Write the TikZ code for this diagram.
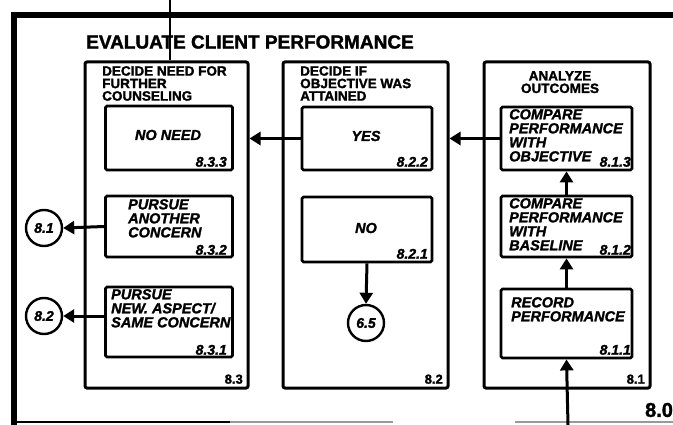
\documentclass[tikz,border=0pt]{standalone}
\usepackage{fontspec}
\setmainfont{Liberation Sans}[
  BoldFeatures={FakeBold=1.6},
  BoldItalicFeatures={FakeBold=1.6}]
\usetikzlibrary{arrows.meta}

\tikzset{
  frame/.style={line width=6pt, line cap=butt},
  panel/.style={draw, line width=3pt, rounded corners=2pt, inner sep=0pt},
  task/.style={draw, line width=2.8pt, rounded corners=1.5pt, inner sep=0pt},
  link/.style={line width=3pt, -{Triangle[length=11pt,width=13pt]}},
  wire/.style={line width=2.6pt},
  ref/.style={draw, circle, line width=2.4pt, minimum size=36pt, inner sep=0pt,
    font=\bfseries\itshape\fontsize{14}{14}\selectfont},
  heading/.style={align=left, inner sep=0pt,
    font=\bfseries\fontsize{13.5}{12.5}\selectfont},
  tasktext/.style={align=left, inner sep=0pt,
    font=\bfseries\itshape\fontsize{14.5}{14}\selectfont},
  tasknum/.style={inner sep=0pt, anchor=south east,
    font=\bfseries\itshape\fontsize{14}{14}\selectfont},
  panelnum/.style={inner sep=0pt, anchor=south east,
    font=\bfseries\fontsize{13}{13}\selectfont},
}

\begin{document}
\begin{tikzpicture}[x=1pt, y=-1pt]
\useasboundingbox (0,0) rectangle (673,425);

% outer frame of activity 8.0
\draw[frame] (673,15) -- (14,15) -- (14,425);
\draw[line width=2pt] (11,422) -- (230,422);
\draw[line width=2pt, black!40] (230,422) -- (393,422);
\draw[line width=2pt, black!40] (515,422) -- (673,422);

\node[font=\bfseries\fontsize{19}{19}\selectfont, inner sep=0pt] (title) at (250,42)
  {EVALUATE CLIENT PERFORMANCE};
\node[font=\bfseries\fontsize{20}{20}\selectfont, inner sep=0pt] (n80) at (659,410) {8.0};

% the three panels
\node[panel, minimum width=163pt, minimum height=326pt] (p83) at (166.5,225) {};
\node[panel, minimum width=165pt, minimum height=326pt] (p82) at (365.5,225) {};
\node[panel, minimum width=166pt, minimum height=326pt] (p81) at (567,225) {};

\node[heading, anchor=north west] (h83) at (102,66) {DECIDE NEED FOR\\FURTHER\\COUNSELING};
\node[heading, anchor=north west] (h82) at (300,66) {DECIDE IF\\OBJECTIVE WAS\\ATTAINED};
\node[heading, anchor=north, align=center] (h81) at (560,71) {ANALYZE\\OUTCOMES};

\node[panelnum] (l83) at (243,384) {8.3};
\node[panelnum] (l82) at (443,384) {8.2};
\node[panelnum] (l81) at (645,384) {8.1};

% panel 8.3
\node[task, minimum width=127pt, minimum height=64pt] (t833) at (169,138) {};
\node[tasktext] (x833) at (168,135) {NO NEED};
\node[tasknum] (k833) at (227,167) {8.3.3};

\node[task, minimum width=127pt, minimum height=61pt] (t832) at (169,226.5) {};
\node[tasktext, anchor=north west] (x832) at (128,199) {PURSUE\\ANOTHER\\CONCERN};
\node[tasknum] (k832) at (227,255) {8.3.2};

\node[task, minimum width=127pt, minimum height=70pt] (t831) at (169,322) {};
\node[tasktext, anchor=north west] (x831) at (111,289) {PURSUE\\NEW. ASPECT/\\SAME CONCERN};
\node[tasknum] (k831) at (227,355) {8.3.1};

\node[ref] (c81) at (44,228) {8.1};
\node[ref] (c82) at (44,316) {8.2};

% panel 8.2
\node[task, minimum width=130pt, minimum height=63pt] (t822) at (367,138.5) {};
\node[tasktext] (x822) at (366,136) {YES};
\node[tasknum] (k822) at (428,167) {8.2.2};

\node[task, minimum width=130pt, minimum height=65pt] (t821) at (367,229.5) {};
\node[tasktext] (x821) at (366,228) {NO};
\node[tasknum] (k821) at (428,259) {8.2.1};

\node[ref] (c65) at (366,323) {6.5};

% panel 8.1
\node[task, minimum width=131pt, minimum height=63pt] (t813) at (566.5,138.5) {};
\node[tasktext, anchor=north west] (x813) at (509,109) {COMPARE\\PERFORMANCE\\WITH\\OBJECTIVE};
\node[tasknum] (k813) at (631,167) {8.1.3};

\node[task, minimum width=131pt, minimum height=61pt] (t812) at (566.5,226.5) {};
\node[tasktext, anchor=north west] (x812) at (509,198) {COMPARE\\PERFORMANCE\\WITH\\BASELINE};
\node[tasknum] (k812) at (631,255) {8.1.2};

\node[task, minimum width=131pt, minimum height=69pt] (t811) at (566.5,323.5) {};
\node[tasktext, anchor=north west] (x811) at (511,297) {RECORD\\PERFORMANCE};
\node[tasknum] (k811) at (631,355) {8.1.1};

% connectors
\coordinate (topin) at (170,0);
\coordinate (botin) at (568,425);
\draw[wire] (topin) -- (topin |- p83.north);
\draw[link] (botin) -- (t811.south);
\draw[link] (t811.north) -- (t812.south);
\draw[link] (t812.north) -- (t813.south);
\draw[link] (t813.west) -- (t813.west -| p82.east);
\draw[link] (t822.west) -- (t822.west -| p83.east);
\draw[link] (t821.south) -- (c65.north);
\draw[link] (t832.west) -- (c81.east);
\draw[link] (t831.west |- c82) -- (c82.east);
\end{tikzpicture}
\end{document}
